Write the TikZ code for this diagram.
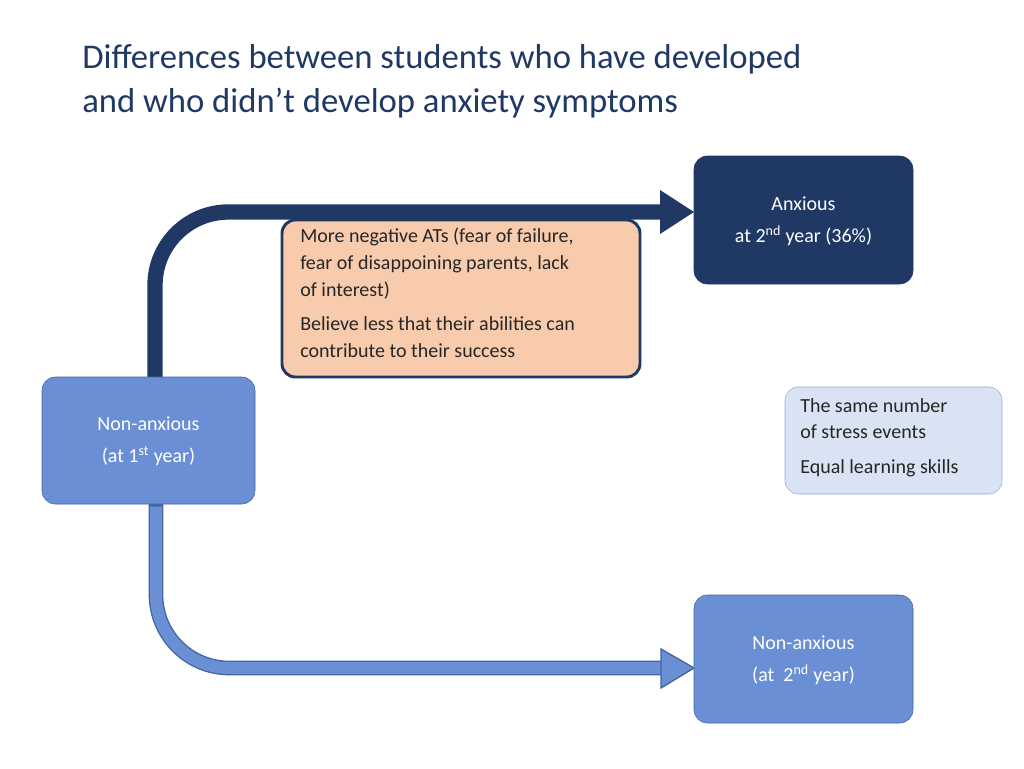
\documentclass[tikz,border=0pt]{standalone}
\usepackage{fontspec}
\setmainfont{Carlito}
\definecolor{navy}{HTML}{203864}
\definecolor{midblue}{HTML}{6A8FD4}
\definecolor{midborder}{HTML}{41669E}
\definecolor{peach}{HTML}{F8CBAD}
\definecolor{pale}{HTML}{DAE3F3}
\definecolor{paleborder}{HTML}{8FAADC}
\definecolor{titlec}{HTML}{1F3864}
\begin{document}
\begin{tikzpicture}[x=0.75pt,y=-0.75pt,
  txt/.style={font=\fontsize{15}{20}\selectfont},
  box/.style={rounded corners=10pt,anchor=north west,inner sep=0pt}]
\useasboundingbox (0,0) rectangle (1024,768);
% title
\node[anchor=north west,text=titlec,font=\fontsize{26}{33}\selectfont,align=left,inner sep=0pt] (title) at (82,44)
 {Differences between students who have developed\\and who didn’t develop anxiety symptoms};
% arrows
\coordinate (a1) at (155,377); \coordinate (a2) at (155,212); \coordinate (a3) at (664,212);
\draw[navy,line width=11.5pt,rounded corners=55pt] (a1) -- (a2) -- (a3);
\fill[navy] (660,190) -- (694,212) -- (660,234) -- cycle;
\coordinate (b1) at (156,504); \coordinate (b2) at (156,668); \coordinate (b3) at (664,668);
\draw[midborder,line width=11pt,rounded corners=55pt] (b1) -- (b2) -- (b3);
\draw[midblue,line width=9pt,rounded corners=55pt] ([yshift=-2]b1) -- (b2) -- ([xshift=2]b3);
\filldraw[fill=midblue,draw=midborder,line width=1pt] (661,649) -- (694,668) -- (661,688) -- cycle;
% boxes
\draw[navy,fill=navy,rounded corners=10pt] (694,156) rectangle (913,284);
\node[txt,text=white,align=center] (anx) at (803.5,221) {Anxious\\[4pt]at 2\textsuperscript{nd} year (36\%)};
\draw[navy,fill=peach,line width=2.2pt,rounded corners=10pt] (282,220) rectangle (640,377);
\node[txt,anchor=north west,align=left,inner sep=0pt,text=black!85] (neg) at (300,228)
 {More negative ATs (fear of failure,\\fear of disappoining parents, lack\\of interest)\\[6pt]Believe less that their abilities can\\contribute to their success};
\draw[midborder,fill=midblue,rounded corners=10pt] (42,377) rectangle (255,504);
\node[txt,text=white,align=center] (na1) at (148.5,441) {Non-anxious\\[4pt](at 1\textsuperscript{st} year)};
\draw[paleborder,fill=pale,rounded corners=10pt] (785,387) rectangle (1002,494);
\node[txt,anchor=north west,align=left,inner sep=0pt,text=black!85] (same) at (800,398)
 {The same number\\of stress events\\[6pt]Equal learning skills};
\draw[midborder,fill=midblue,rounded corners=10pt] (694,595) rectangle (913,723);
\node[txt,text=white,align=center] (na2) at (803.5,660) {Non-anxious\\[4pt](at~ 2\textsuperscript{nd} year)};
\end{tikzpicture}
\end{document}
